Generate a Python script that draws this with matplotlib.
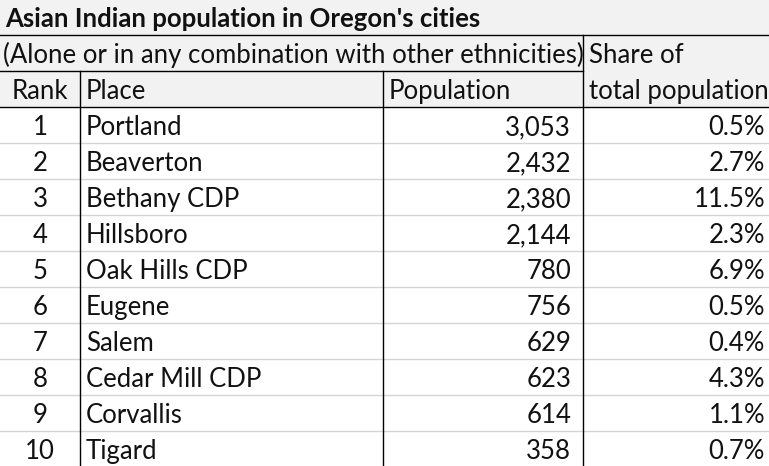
import matplotlib
matplotlib.use("Agg")
import matplotlib.pyplot as plt

# table content
title = "Asian Indian population in Oregon's cities"
subtitle = "(Alone or in any combination with other ethnicities)"
col_headers = ["Rank", "Place", "Population", "Share of\ntotal population"]
ranks = [1, 2, 3, 4, 5, 6, 7, 8, 9, 10]
places = ["Portland", "Beaverton", "Bethany CDP", "Hillsboro", "Oak Hills CDP",
          "Eugene", "Salem", "Cedar Mill CDP", "Corvallis", "Tigard"]
population = [3053, 2432, 2380, 2144, 780, 756, 629, 623, 614, 358]
share = [0.5, 2.7, 11.5, 2.3, 6.9, 0.5, 0.4, 4.3, 1.1, 0.7]

W, H = 769, 466
fig = plt.figure(figsize=(W / 100, H / 100), dpi=100)
ax = fig.add_axes([0, 0, 1, 1])
ax.set_xlim(0, W)
ax.set_ylim(H, 0)
ax.axis("off")

plt.rcParams['font.family'] = ['Lato', 'DejaVu Sans']
fs = 18.5
tc = "#111111"

# column edges (px)
x_rank, x_place, x_pop, x_share = 80, 383, 583, W
top_head = 107
row_h = 36

# header background
ax.add_patch(plt.Rectangle((0, 0), W, top_head, color="#f2f2f2", zorder=0))

# gridlines between data rows
for i in range(len(ranks)):
    y = top_head + row_h * (i + 1)
    ax.plot([0, W], [y, y], color="#d4d4d4", lw=1, zorder=1)

# dark borders
ax.plot([0, W], [35, 35], color="black", lw=1, zorder=2)
ax.plot([0, x_pop], [71, 71], color="black", lw=1, zorder=2)
ax.plot([0, W], [top_head, top_head], color="black", lw=1, zorder=2)
ax.plot([x_rank, x_rank], [71, H], color="black", lw=1, zorder=2)
ax.plot([x_place, x_place], [71, H], color="black", lw=1, zorder=2)
ax.plot([x_pop, x_pop], [35, H], color="black", lw=1, zorder=2)

kw = dict(fontsize=fs, va="baseline", color=tc)
ax.text(5, 27, title, fontweight="bold", ha="left", **kw)
clip = plt.Rectangle((0, 35), x_pop - 1, 36, transform=ax.transData)
t = ax.text(3, 63, subtitle, ha="left", **kw)
t.set_clip_path(clip)

ax.text(40, 99, col_headers[0], ha="center", **kw)
ax.text(86, 99, col_headers[1], ha="left", **kw)
ax.text(389, 99, col_headers[2], ha="left", **kw)
share_lines = col_headers[3].split("\n")
ax.text(589, 63, share_lines[0], ha="left", **kw)
ax.text(589, 99, share_lines[1], ha="left", **kw)

for i, (r, p, n, s) in enumerate(zip(ranks, places, population, share)):
    yb = top_head + row_h * i + 28
    ax.text(40, yb, str(r), ha="center", **kw)
    ax.text(86, yb, p, ha="left", **kw)
    ax.text(571, yb, "{:,}".format(n), ha="right", **kw)
    ax.text(765, yb, "{:.1f}%".format(s), ha="right", **kw)

fig.savefig("out.png", dpi=100, facecolor="white")
